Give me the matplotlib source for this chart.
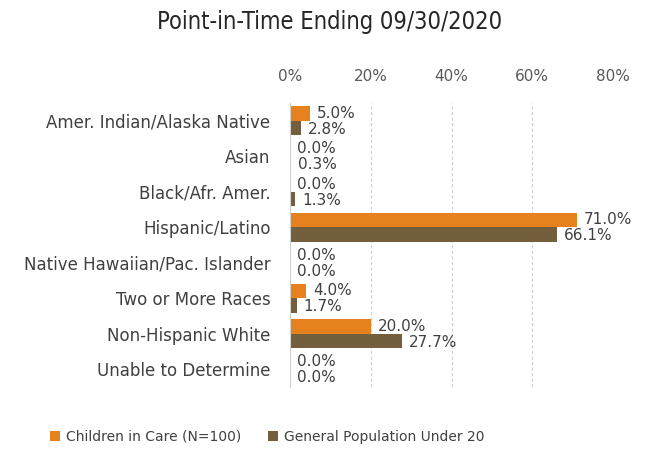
import matplotlib
import matplotlib.pyplot as plt
import numpy as np

matplotlib.use("Agg")

# Race/ethnicity breakdown, point-in-time ending 09/30/2020
categories = [
    "Amer. Indian/Alaska Native",
    "Asian",
    "Black/Afr. Amer.",
    "Hispanic/Latino",
    "Native Hawaiian/Pac. Islander",
    "Two or More Races",
    "Non-Hispanic White",
    "Unable to Determine",
]
children_in_care = [5.0, 0.0, 0.0, 71.0, 0.0, 4.0, 20.0, 0.0]
general_population = [2.8, 0.3, 1.3, 66.1, 0.0, 1.7, 27.7, 0.0]
x_ticks = [0, 20, 40, 60, 80]

series_names = ["Children in Care (N=100)", "General Population Under 20"]
colors = ["#E6821E", "#735E3E"]
text_color = "#404040"

plt.rcParams["font.family"] = ["DejaVu Sans"]

fig = plt.figure(figsize=(6.57, 4.5), dpi=100)
ax = fig.add_axes([290 / 657, 1 - 387 / 450, (613 - 290) / 657, (387 - 103) / 450])

y = np.arange(len(categories))
bar_h = 0.41

bars_a = ax.barh(y - bar_h / 2, children_in_care, height=bar_h, color=colors[0],
                 label=series_names[0])
bars_b = ax.barh(y + bar_h / 2, general_population, height=bar_h, color=colors[1],
                 label=series_names[1])

# value labels just past the end of each bar
for bars, vals, dy in [(bars_a, children_in_care, 0), (bars_b, general_population, -1)]:
    for rect, v in zip(bars, vals):
        ax.annotate(f"{v:.1f}%", (v, rect.get_y() + rect.get_height() / 2),
                    xytext=(5, dy), textcoords="offset points",
                    ha="left", va="center", fontsize=11, color=text_color)

ax.set_xlim(0, 80)
ax.set_ylim(len(categories) - 0.5, -0.5)
ax.set_yticks(y)
ax.set_yticklabels(categories, fontsize=12, color=text_color)
ax.set_xticks(x_ticks)
ax.set_xticklabels([f"{t}%" for t in x_ticks], fontsize=11, color="#595959")
ax.xaxis.tick_top()
ax.tick_params(axis="both", length=0)
ax.tick_params(axis="x", pad=14)
ax.tick_params(axis="y", pad=14)

ax.set_axisbelow(True)
ax.grid(axis="x", color="#D0D0D0", linestyle=(0, (3, 2)), linewidth=0.8)
for side in ["top", "right", "bottom"]:
    ax.spines[side].set_visible(False)
ax.spines["left"].set_color("#D0D0D0")

fig.text(0.502, 0.952, "Point-in-Time Ending 09/30/2020", ha="center", va="center",
         fontsize=17, fontstretch="condensed", color="#262626")

fig.legend(loc="center", bbox_to_anchor=(267 / 657, 1 - 437 / 450), ncol=2,
           frameon=False, fontsize=10, handlelength=0.75, handleheight=0.75,
           columnspacing=1.9, handletextpad=0.4, labelcolor=text_color)

fig.savefig("out.png", dpi=100)
